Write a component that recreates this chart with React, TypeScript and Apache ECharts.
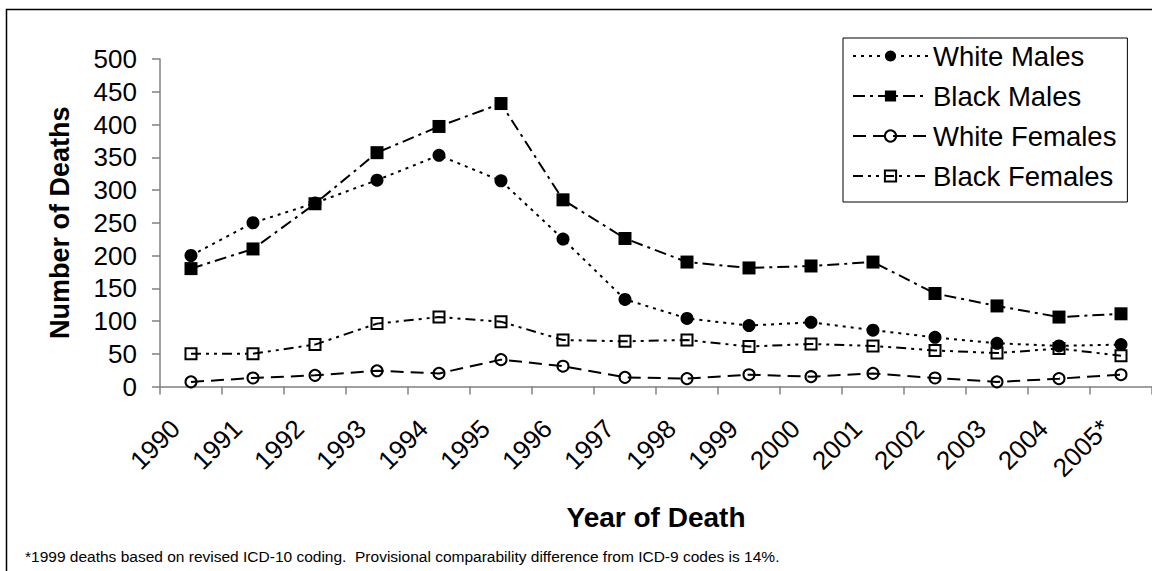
import React, { useEffect, useRef } from "react";
import * as echarts from "echarts";

const years = ["1990", "1991", "1992", "1993", "1994", "1995", "1996", "1997", "1998", "1999", "2000", "2001", "2002", "2003", "2004", "2005*"];
const whiteMales = [200, 250, 280, 315, 353, 314, 225, 133, 104, 93, 98, 86, 75, 66, 62, 64];
const blackMales = [180, 210, 279, 357, 397, 432, 285, 226, 190, 181, 184, 190, 142, 123, 106, 111];
const whiteFemales = [7, 13, 17, 24, 20, 41, 31, 14, 12, 18, 15, 20, 13, 7, 12, 18];
const blackFemales = [50, 50, 64, 96, 106, 99, 71, 69, 71, 61, 65, 62, 55, 51, 58, 47];

const FONT = "'Liberation Sans', Arial, sans-serif";

export default function App() {
  const ref = useRef<HTMLDivElement>(null);
  useEffect(() => {
    if (!ref.current) return;
    const chart = echarts.init(ref.current, undefined, { renderer: "svg" });
    const mk = (
      name: string,
      data: number[],
      symbol: string,
      size: number,
      filled: boolean,
      dash: number[]
    ) => ({
      name,
      type: "line",
      data,
      symbol,
      symbolSize: size,
      showSymbol: true,
      itemStyle: filled
        ? { color: "#000", borderColor: "#000", borderWidth: 0 }
        : { color: "none", borderColor: "#000", borderWidth: 2 },
      lineStyle: { color: "#000", width: 2, type: dash },
      z: filled ? 3 : 2,
    });
    chart.setOption({
      animation: false,
      backgroundColor: "#fff",
      textStyle: { fontFamily: FONT },
      grid: { left: 160, top: 59, bottom: 184.5, right: -10, containLabel: false },
      legend: {
        orient: "vertical",
        left: 843,
        top: 38,
        padding: [4, 11, 12, 9],
        itemWidth: 75,
        itemHeight: 14,
        itemGap: 12,
        borderColor: "#000",
        borderWidth: 1,
        backgroundColor: "#fff",
        textStyle: { fontFamily: FONT, fontSize: 27.5, color: "#000", padding: [0, 0, 0, 0] },
        data: ["White Males", "Black Males", "White Females", "Black Females"],
      },
      xAxis: {
        type: "category",
        data: years,
        boundaryGap: true,
        name: "Year of Death",
        nameLocation: "middle",
        nameGap: 117,
        nameTextStyle: { fontFamily: FONT, fontSize: 28, fontWeight: "bold", color: "#000" },
        axisLine: { lineStyle: { color: "#808080", width: 1.5 } },
        axisTick: { show: true, length: 8, inside: false, lineStyle: { color: "#808080", width: 1.5 } },
        axisLabel: {
          rotate: 45,
          margin: 22,
          padding: [0, 22, 0, 0],
          fontSize: 26,
          color: "#000",
          fontFamily: FONT,
          interval: 0,
        },
        splitLine: { show: false },
      },
      yAxis: {
        type: "value",
        min: 0,
        max: 500,
        interval: 50,
        name: "Number of Deaths",
        nameLocation: "middle",
        nameGap: 87,
        nameRotate: 90,
        nameTextStyle: { fontFamily: FONT, fontSize: 27, fontWeight: "bold", color: "#000" },
        axisLine: { show: true, lineStyle: { color: "#808080", width: 1.5 } },
        axisTick: { show: true, length: 8, lineStyle: { color: "#808080", width: 1.5 } },
        axisLabel: { margin: 23, fontSize: 26, color: "#000", fontFamily: FONT },
        splitLine: { show: false },
      },
      graphic: [
        {
          type: "rect",
          left: 4,
          top: 7,
          shape: { x: 0, y: 0, width: 1300, height: 700 },
          style: { fill: "none", stroke: "#000", lineWidth: 1.5 },
          silent: true,
          z: -10,
        },
        {
          type: "text",
          left: 25,
          top: 548,
          style: {
            text: "*1999 deaths based on revised ICD-10 coding.  Provisional comparability difference from ICD-9 codes is 14%.",
            font: `15.5px ${FONT}`,
            fill: "#000",
          },
        },
      ],
      series: [
        mk("White Males", whiteMales, "circle", 13, true, [3, 5]),
        mk("Black Males", blackMales, "rect", 13, true, [12, 5, 3, 5]),
        mk("White Females", whiteFemales, "circle", 11, false, [13, 7]),
        mk("Black Females", blackFemales, "rect", 11, false, [10, 5, 3, 5, 3, 5]),
      ],
    });
    return () => chart.dispose();
  }, []);
  return <div ref={ref} style={{ position: "fixed", left: 0, top: 0, width: 1152, height: 571 }} />;
}
